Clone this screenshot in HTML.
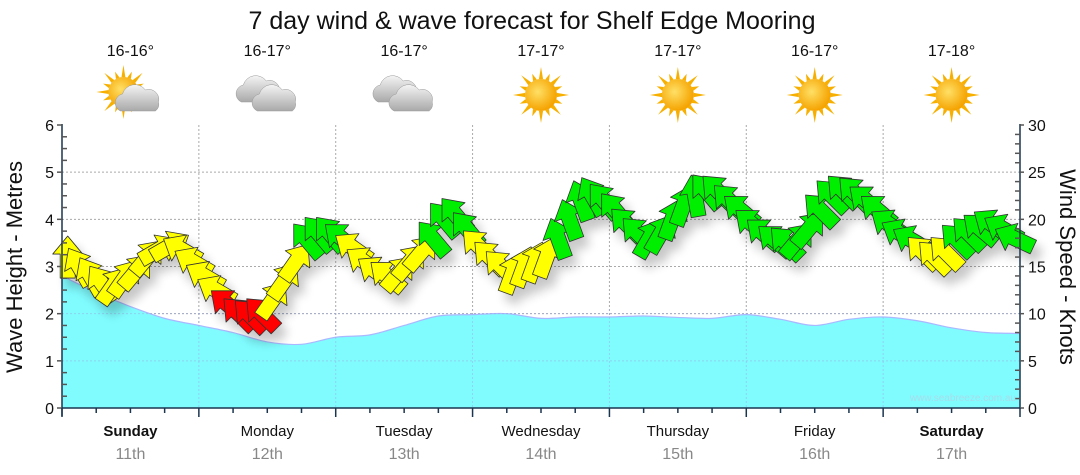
<!DOCTYPE html>
<html><head><meta charset="utf-8">
<style>
body{margin:0;background:#fff;width:1080px;height:475px;overflow:hidden;font-family:"Liberation Sans",sans-serif;}
svg{display:block}
</style></head>
<body>
<svg id="chart" width="1080" height="475" xmlns="http://www.w3.org/2000/svg">
<defs>
<filter id="sh" x="-50%" y="-50%" width="200%" height="200%"><feGaussianBlur in="SourceAlpha" stdDeviation="5"/><feOffset dx="6" dy="9"/><feComponentTransfer><feFuncA type="linear" slope="0.22"/></feComponentTransfer><feMerge><feMergeNode/><feMergeNode in="SourceGraphic"/></feMerge></filter>
<radialGradient id="sunG" cx="40%" cy="40%" r="60%"><stop offset="0" stop-color="#ffe066"/><stop offset="1" stop-color="#f5a300"/></radialGradient>
<linearGradient id="cloudG" x1="0" y1="0" x2="0" y2="1"><stop offset="0" stop-color="#f4f4f4"/><stop offset="1" stop-color="#a9a9a9"/></linearGradient>
</defs>
<text x="532" y="29" font-size="25" text-anchor="middle" fill="#111">7 day wind &amp; wave forecast for Shelf Edge Mooring</text>
<g id="topIcons"></g>
<g id="gridG"></g>
<g id="waveG"></g>
<g id="windG" filter="url(#sh)"></g>
<g id="axesG"></g>
<text x="1016" y="401" font-size="10" text-anchor="end" fill="#a8dcea">www.seabreeze.com.au</text>
<text transform="translate(22,267) rotate(-90)" font-size="22" text-anchor="middle" fill="#111">Wave Height - Metres</text>
<text transform="translate(1060,267) rotate(90)" font-size="22" text-anchor="middle" fill="#111">Wind Speed - Knots</text>
</svg>
<script>
const days=["Sunday","Monday","Tuesday","Wednesday","Thursday","Friday","Saturday"];
const dates=["11th","12th","13th","14th","15th","16th","17th"];
const boldDays=[true,false,false,false,false,false,true];
const temps=["16-16°","16-17°","16-17°","17-17°","17-17°","16-17°","17-18°"];
const icons=["partly","cloud","cloud","sun","sun","sun","sun"];
const waveHeights=[2.8,2.45,2.15,1.9,1.75,1.6,1.4,1.35,1.5,1.55,1.75,1.95,1.98,2.0,1.9,1.93,1.93,1.95,1.92,1.9,1.98,1.88,1.75,1.88,1.93,1.85,1.7,1.6,1.58];
const windSpeeds=[16,15,14,13.2,13,13.8,14.5,16,16.8,17.2,16.8,15.5,
14,12.5,11,10,9.8,10,11.5,13.5,15.5,17.8,18.5,18.5,
18,17,15.5,14.5,14,14.3,15.5,16.5,18,20,20.5,19,
17.2,16,15,14.3,15,15.5,16,18,20,22,22.5,22,
21,19.5,18.5,18,18.5,20,21.5,22.5,23,23,22,21,
19.5,18.5,17.8,17.5,17.8,19,21,22.5,23,22.8,22,21,
19.5,18.5,17.8,16.5,16,16.5,17.8,18.5,19,19.5,19,18];
const windDirs=[0,-30,-30,-35,35,35,40,40,60,60,-60,-60,
-60,-60,-50,-45,-45,-45,35,35,35,-40,-40,-40,
-50,-55,-55,-55,-50,40,40,40,-40,-40,-40,-40,
-45,-45,-45,20,20,20,20,-20,-20,-20,-30,-40,
-40,-45,-45,30,30,20,20,-10,-40,-45,-45,-50,
-50,-50,-50,-45,40,40,-45,-45,-45,-45,-50,-50,
-55,-60,-60,-45,-45,-45,-45,-45,-50,-55,-60,-65];
const waveTicks=[0,1,2,3,4,5,6];
const windTicks=[0,5,10,15,20,25,30];

const NS="http://www.w3.org/2000/svg";
const X0=62,X1=1020,Y0=408,Y1=125,HOURS=168;
const xT=t=>X0+(X1-X0)*t/HOURS;
const yM=m=>Y0-(Y0-Y1)*m/6;
const yK=k=>Y0-(Y0-Y1)*k/30;
function mk(tag,attrs,parent){const e=document.createElementNS(NS,tag);for(const k in attrs)e.setAttribute(k,attrs[k]);parent.appendChild(e);return e;}
const topG=document.getElementById('topIcons'),gridG=document.getElementById('gridG'),waveG=document.getElementById('waveG'),windG=document.getElementById('windG'),axesG=document.getElementById('axesG');

for(let m=1;m<=5;m++){const l=mk('line',{x1:X0,x2:X1,y1:yM(m),y2:yM(m),stroke:'#aaa','stroke-dasharray':'2,2'},gridG);

}
for(let d=1;d<7;d++){const l=mk('line',{x1:xT(d*24),x2:xT(d*24),y1:Y1,y2:Y0,stroke:'#aaa','stroke-dasharray':'2,2'},gridG);

}

const pts=waveHeights.map((h,i)=>[xT(i*HOURS/(waveHeights.length-1)),yM(h)]);
let pd=`M${pts[0][0]},${pts[0][1]}`;
for(let i=0;i<pts.length-1;i++){const p0=pts[Math.max(0,i-1)],p1=pts[i],p2=pts[i+1],p3=pts[Math.min(pts.length-1,i+2)];
pd+=` C${p1[0]+(p2[0]-p0[0])/6},${p1[1]+(p2[1]-p0[1])/6} ${p2[0]-(p3[0]-p1[0])/6},${p2[1]-(p3[1]-p1[1])/6} ${p2[0]},${p2[1]}`;}
const area=mk('path',{d:pd+` L${X1},${Y0} L${X0},${Y0} Z`,fill:'#80fcff'},waveG);


const wl=mk('path',{d:pd,fill:'none',stroke:'#a9b8ff','stroke-width':1.2},waveG);


for(let m=1;m<=2;m++){mk('line',{x1:X0,x2:X1,y1:yM(m),y2:yM(m),stroke:'#9ad','stroke-dasharray':'2,2','stroke-opacity':0.5},waveG);}
for(let dd=1;dd<7;dd++){mk('line',{x1:xT(dd*24),x2:xT(dd*24),y1:yM(2.1),y2:Y0,stroke:'#9ad','stroke-dasharray':'2,2','stroke-opacity':0.5},waveG);}

const arrowD="M0,-21 L15,-3 L7.5,-3 L7.5,21 L-7.5,21 L-7.5,-3 L-15,-3 Z";
windSpeeds.forEach((s,i)=>{
 const t=(i+0.5)*HOURS/windSpeeds.length;
 const col=s<11.2?'#ff0000':(s<17.5?'#ffff00':'#00ee00');
 const a=mk('path',{d:arrowD,fill:col,stroke:'#333','stroke-width':0.8,'stroke-linejoin':'round',transform:`translate(${xT(t)},${yK(s)}) rotate(${windDirs[i]})`},windG);
 
 
});

const ax='#1a3550';
mk('line',{x1:X0,x2:X0,y1:Y1-1,y2:Y0+8,stroke:ax,'stroke-width':1.5},axesG);
mk('line',{x1:X1,x2:X1,y1:Y1-1,y2:Y0,stroke:ax,'stroke-width':1.5},axesG);
mk('line',{x1:X0,x2:X1,y1:Y0,y2:Y0,stroke:ax,'stroke-width':1.5},axesG);
for(let q=0;q<=24;q++){const y=yM(q/4);mk('line',{x1:X0,x2:X0+(q%4==0?-5:5),y1:y,y2:y,stroke:'#555','stroke-width':1.5},axesG);}
waveTicks.forEach(v=>{const t=mk('text',{x:X0-8,y:yM(v)+6,'font-size':16,'text-anchor':'end',fill:'#111'},axesG);t.textContent=v;

});
for(let k=0;k<=30;k++){const y=yK(k);mk('line',{x1:X1,x2:X1+(k%5==0?4:-5),y1:y,y2:y,stroke:'#555','stroke-width':1.5},axesG);}
windTicks.forEach(v=>{const t=mk('text',{x:X1+8,y:yK(v)+6,'font-size':16,fill:'#111'},axesG);t.textContent=v;

});
for(let h=0;h<=HOURS;h+=6){const x=xT(h);mk('line',{x1:x,x2:x,y1:Y0,y2:Y0+(h%24==0?9:5),stroke:ax,'stroke-width':1.5},axesG);}

days.forEach((dn,i)=>{
 const cx=xT(i*24+12);
 const t=mk('text',{x:cx,y:436,'font-size':15,'text-anchor':'middle',fill:'#111','font-weight':boldDays[i]?'bold':'normal'},axesG);t.textContent=dn;
 
 
 const t2=mk('text',{x:cx,y:459,'font-size':16,'text-anchor':'middle',fill:'#888'},axesG);t2.textContent=dates[i];
 
 
 const tt=mk('text',{x:cx,y:56,'font-size':16,'text-anchor':'middle',fill:'#111'},topG);tt.textContent=temps[i];
 
 
 const g=mk('g',{transform:`translate(${cx},95)`},topG);
 
 
 const sun=(ox,oy,r)=>{for(let k=0;k<16;k++){const a=k*Math.PI/8,l=k%2?r+7:r+12;mk('polygon',{points:`${ox+Math.cos(a-0.13)*r},${oy+Math.sin(a-0.13)*r} ${ox+Math.cos(a)*l},${oy+Math.sin(a)*l} ${ox+Math.cos(a+0.13)*r},${oy+Math.sin(a+0.13)*r}`,fill:'#f7b000'},g);}
   mk('circle',{cx:ox,cy:oy,r:r,fill:'url(#sunG)'},g);};
 const cloud=(ox,oy,s)=>{mk('path',{d:`M${ox-18*s},${oy+11*s} a9 9 0 0 1 2,-17 a13 13 0 0 1 23,-4 a10 10 0 0 1 13,12 a8 8 0 0 1 -3,9 Z`,fill:'url(#cloudG)',stroke:'#999','stroke-width':0.5},g);};
 if(icons[i]=='sun'){sun(0,0,16);}
 else if(icons[i]=='partly'){sun(-7,-3,15);cloud(8,5,1);}
 else {cloud(-8,-4,1);cloud(8,5,1);}
});
</script>
</body></html>
